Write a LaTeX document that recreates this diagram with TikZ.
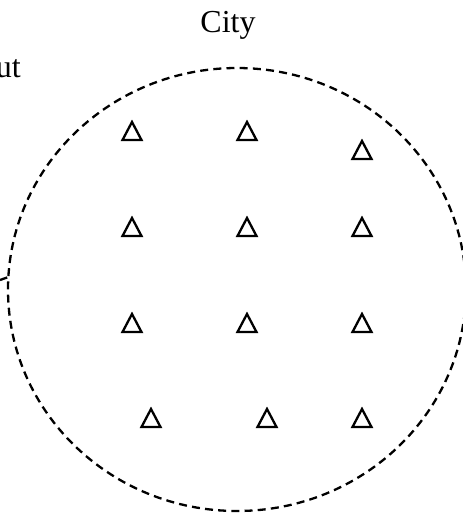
\documentclass[tikz,border=0pt]{standalone}
\usepackage{fontspec}
\setmainfont{Liberation Serif}
\usepackage{tikz}
\usetikzlibrary{shapes.geometric}

\begin{document}
\begin{tikzpicture}[x=0.5pt, y=-0.5pt, line width=1.15pt,
        lbl/.style={font=\fontsize{16}{19}\selectfont, inner sep=0pt, anchor=base},
        area/.style={draw, ellipse, dashed, dash pattern=on 4pt off 2.6pt, inner sep=0pt},
        tri/.style={draw, line join=miter}]

        \useasboundingbox (0,0) rectangle (462,515);

        \node[lbl] (city) at (228,32) {City};
        \node[lbl, anchor=base east] (input) at (22,77) {ut};

        \node[area, minimum width=229pt, minimum height=221.5pt] (region) at (237,289.5) {};

        \coordinate (in) at (0,280);
        \draw (in) -- (region.177.6);

        % stations
        \foreach \n/\x/\y in {1/132/131, 2/247/131, 3/362/150,
                              4/132/227, 5/247/227, 6/362/227,
                              7/132/323, 8/247/323, 9/362/323,
                              10/151/418, 11/267/418, 12/362/418}
        {
            \coordinate (t\n) at (\x,\y);
            \draw[tri] ([shift={(-9.5,9)}]t\n) -- ([shift={(9.5,9)}]t\n)
                -- ([shift={(0,-9)}]t\n) -- cycle;
        }

    \end{tikzpicture}
\end{document}
